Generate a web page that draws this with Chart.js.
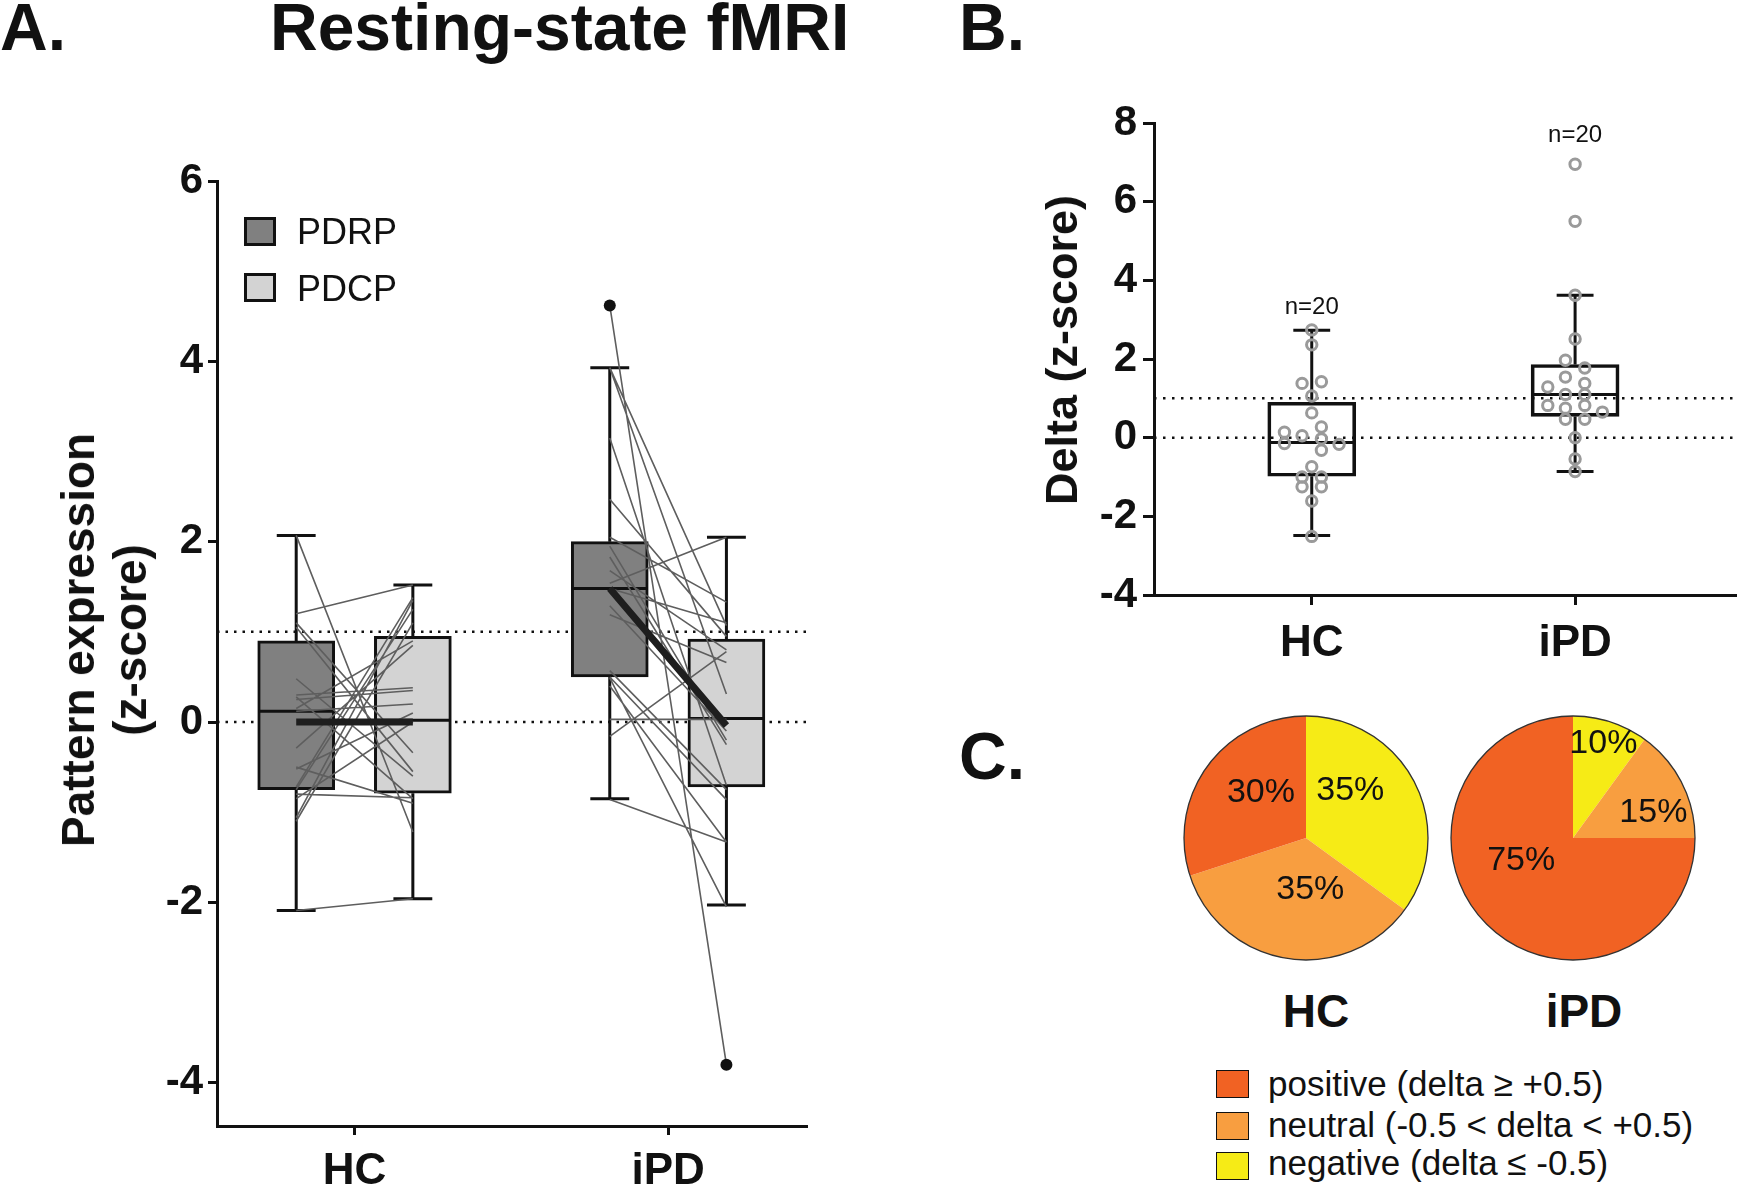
<!DOCTYPE html>
<html><head><meta charset="utf-8">
<script src="https://cdn.jsdelivr.net/npm/chart.js@4.4.1/dist/chart.umd.min.js"></script>
<style>
html,body{margin:0;padding:0;background:#fff;}
body{width:1745px;height:1185px;position:relative;overflow:hidden;font-family:'Liberation Sans',Arial,Helvetica,sans-serif;color:#111;}
canvas{position:absolute;}
.t{position:absolute;white-space:nowrap;line-height:1;}
.rot{position:absolute;white-space:nowrap;transform:translate(-50%,-50%) rotate(-90deg);text-align:center;font-weight:bold;}
.sw{position:absolute;box-sizing:border-box;}
</style></head><body>
<canvas id="cA" width="700" height="1050" style="left:117px;top:150px"></canvas>
<canvas id="cB" width="705" height="600" style="left:1040px;top:90px"></canvas>
<canvas id="cP1" width="250" height="250" style="left:1181px;top:713px"></canvas>
<canvas id="cP2" width="250" height="250" style="left:1448px;top:713px"></canvas>
<script>
// ================= DATA =================
const groups = ['HC', 'iPD'];
const patterns = ['PDRP', 'PDCP'];
const yTicksA = [-4, -2, 0, 2, 4, 6];
const yTicksB = [-4, -2, 0, 2, 4, 6, 8];
const refLines = [0, 1];

// Panel A box statistics: [min, q1, median, q3, max]
const boxHC_PDRP  = [-2.09, -0.75, 0.12, 0.90, 2.07];
const boxHC_PDCP  = [-1.96, -0.79, 0.02, 0.95, 1.52];
const boxIPD_PDRP = [-0.85, 0.50, 1.48, 2.00, 3.93];
const boxIPD_PDCP = [-2.03, -0.72, 0.04, 0.92, 2.05];
// group mean lines [PDRP, PDCP]
const meanHC  = [0.00, 0.00];
const meanIPD = [1.48, -0.04];
// outliers
const outlierIPD_PDRP = [4.62];
const outlierIPD_PDCP = [-3.80];
// individual subjects (paired)
const subjHC_PDRP  = [2.07, 1.20, 1.10, 1.05, 0.48, 0.30, 0.28, 0.25, 0.15, 0.12, -0.29, -0.50, -0.52, -0.72, -0.75, -0.80, -0.85, -1.06, -1.10, -2.09];
const subjHC_PDCP  = [-1.22, 1.52, -0.34, -0.55, -0.60, 0.38, -0.85, 0.35, 0.90, 0.20, 0.85, -0.90, 0.10, 1.38, 1.25, -0.84, 0.00, 1.35, 1.10, -1.96];
const subjIPD_PDRP = [4.62, 3.93, 3.93, 3.15, 2.47, 2.05, 1.95, 1.83, 1.68, 1.54, 1.48, 1.29, 1.19, 0.57, 0.49, 0.40, 0.50, 0.03, -0.16, -0.86];
const subjIPD_PDCP = [-3.80, 0.31, 1.07, -0.70, 0.95, 1.33, -0.20, -0.25, 0.80, 2.05, 1.10, -0.10, 0.66, -0.75, -2.05, -1.33, -0.86, 0.03, 0.78, -1.33];

// Panel B: delta values and their column slot (-2..2)
const deltaHC  = [2.74, 2.36, 1.38, 1.42, 1.06, 0.63, 0.14, 0.27, 0.05, -0.03, -0.15, -0.17, -0.32, -0.74, -1.00, -1.00, -1.25, -1.25, -1.61, -2.51];
const slotHC   = [0, 0, -1, 1, 0, 0, -2, 1, -1, 1, -2, 2, 1, 0, -1, 1, -1, 1, 0, 0];
const deltaIPD = [6.95, 5.50, 3.62, 2.51, 1.97, 1.77, 1.54, 1.29, 1.38, 1.10, 1.10, 0.82, 0.75, 0.82, 0.65, 0.47, 0.47, 0.00, -0.54, -0.86];
const slotIPD  = [0, 0, 0, 0, -1, 1, -1, -2, 1, -1, 1, -2, -1, 1, 2, -1, 1, 0, 0, 0];
const boxHC_Delta  = [-2.49, -0.98, -0.12, 0.90, 2.73];
const boxIPD_Delta = [-0.86, 0.54, 1.10, 1.86, 3.62];
const nLabels = ['n=20', 'n=20'];

// Panel C
const pieCategories = ['negative', 'neutral', 'positive'];
const pieHC  = [35, 35, 30];
const pieIPD = [10, 15, 75];
const legendOrder = ['positive', 'neutral', 'negative'];
const legendLabels = ['positive (delta \u2265 +0.5)', 'neutral (-0.5 < delta < +0.5)', 'negative (delta \u2264 -0.5)'];

// ================= STYLE =================
const INK = '#111';
const COL_PDRP = '#808080', COL_PDCP = '#d3d3d3';
const PIE_COL = { positive: '#f16223', neutral: '#f89e40', negative: '#f6eb16' };
const SA = { off: 0.186, boxPx: 77, half: 0.120, cap: 0.062, xMin: 0.5614, xMax: 2.443, yMin: -4.48, yMax: 6 };
const SB = { boxPx: 88, half: 0.160, cap: 0.07, slot: 0.0367, slot2: 0.1037, xMin: 0.401, xMax: 2.614, yMin: -4, yMax: 8 };

Chart.defaults.font.family = "'Liberation Sans', Arial, Helvetica, sans-serif";
Chart.defaults.color = INK;

function whiskers(cx, s, cap) {
  const [mn, q1, md, q3, mx] = s;
  return [
    {x: cx, y: q3}, {x: cx, y: mx}, {x: cx, y: null},
    {x: cx, y: q1}, {x: cx, y: mn}, {x: cx, y: null},
    {x: cx - cap, y: mx}, {x: cx + cap, y: mx}, {x: cx, y: null},
    {x: cx - cap, y: mn}, {x: cx + cap, y: mn}, {x: cx, y: null}
  ];
}
function hseg(cx, half, y) { return [{x: cx - half, y}, {x: cx + half, y}, {x: cx, y: null}]; }
function pairs(x1, a, x2, b) {
  const out = [];
  a.forEach((v, i) => { out.push({x: x1, y: v}, {x: x2, y: b[i]}, {x: x2, y: null}); });
  return out;
}
function axisCommon(tickLen, pad, fontSize, cb) {
  return {
    grid: { drawOnChartArea: false, drawTicks: true, tickLength: tickLen, tickWidth: 3, tickColor: INK, offset: false },
    border: { display: true, width: 3, color: INK },
    ticks: { font: { size: fontSize, weight: 'bold' }, color: INK, padding: pad, autoSkip: false, maxRotation: 0, callback: cb }
  };
}
const groupLabel = v => groups[Math.round(v) - 1] || '';
const numLabel = v => String(v);
const lineDs = (data, color, width, order, extra = {}) => Object.assign({
  type: 'scatter', data, showLine: true, borderColor: color, borderWidth: width, pointRadius: 0,
  pointHoverRadius: 0, spanGaps: false, order, fill: false
}, extra);

// ================= PANEL A =================
(function () {
  const xHCr = 1 - SA.off, xHCc = 1 + SA.off, xPDr = 2 - SA.off, xPDc = 2 + SA.off;
  const boxes = [[xHCr, boxHC_PDRP, COL_PDRP], [xHCc, boxHC_PDCP, COL_PDCP], [xPDr, boxIPD_PDRP, COL_PDRP], [xPDc, boxIPD_PDCP, COL_PDCP]];
  const ds = [];
  refLines.forEach(v => ds.push(lineDs([{x: SA.xMin, y: v}, {x: SA.xMax, y: v}], INK, 2.5, 20, {borderDash: [2.5, 6]})));
  ds.push(lineDs(boxes.flatMap(b => whiskers(b[0], b[1], SA.cap)), INK, 3, 15));
  ds.push({ type: 'bar', data: boxes.map(b => ({x: b[0], y: [b[1][1], b[1][3]]})), backgroundColor: boxes.map(b => b[2]),
            borderColor: INK, borderWidth: 3, borderSkipped: false, barThickness: SA.boxPx, order: 12 });
  ds.push(lineDs(boxes.flatMap(b => hseg(b[0], SA.half, b[1][2])), INK, 3, 11));
  ds.push(lineDs(pairs(xHCr, subjHC_PDRP, xHCc, subjHC_PDCP).concat(pairs(xPDr, subjIPD_PDRP, xPDc, subjIPD_PDCP)), '#5e5e5e', 1.6, 8));
  ds.push(lineDs([{x: xHCr, y: meanHC[0]}, {x: xHCc, y: meanHC[1]}, {x: xHCc, y: null}, {x: xPDr, y: meanIPD[0]}, {x: xPDc, y: meanIPD[1]}], '#1e1e1e', 7, 6));
  ds.push({ type: 'scatter', data: outlierIPD_PDRP.map(v => ({x: xPDr, y: v})).concat(outlierIPD_PDCP.map(v => ({x: xPDc, y: v}))),
            pointRadius: 6, pointBackgroundColor: INK, pointBorderColor: INK, pointBorderWidth: 0, order: 2 });
  const xa = axisCommon(9, 10, 44, groupLabel), ya = axisCommon(9, 5, 42, numLabel);
  new Chart(document.getElementById('cA'), {
    type: 'scatter',
    data: { datasets: ds },
    options: {
      responsive: false, animation: false, devicePixelRatio: 1,
      layout: { padding: { left: 0, top: 31, right: 10, bottom: 0 } },
      plugins: { legend: { display: false }, tooltip: { enabled: false } },
      scales: {
        x: Object.assign(xa, { type: 'linear', min: SA.xMin, max: SA.xMax, offset: false,
             afterFit: s => { s.height = 74; },
             afterBuildTicks: s => { s.ticks = groups.map((g, i) => ({value: i + 1})); } }),
        y: Object.assign(ya, { type: 'linear', min: SA.yMin, max: SA.yMax,
             afterFit: s => { s.width = 100; },
             afterBuildTicks: s => { s.ticks = yTicksA.map(v => ({value: v})); } })
      }
    }
  });
})();

// ================= PANEL B =================
const nLabelPlugin = {
  id: 'nlab',
  afterDatasetsDraw(chart, args, opts) {
    const {ctx, scales: {x, y}} = chart;
    ctx.save();
    ctx.font = "24px 'Liberation Sans', Arial, sans-serif";
    ctx.fillStyle = INK; ctx.textAlign = 'center'; ctx.textBaseline = 'alphabetic';
    (opts.items || []).forEach(it => ctx.fillText(it.text, x.getPixelForValue(it.x), y.getPixelForValue(it.y)));
    ctx.restore();
  }
};
(function () {
  const slotOff = s => Math.sign(s) * (Math.abs(s) === 2 ? SB.slot2 : Math.abs(s) === 1 ? SB.slot : 0);
  const boxes = [[1, boxHC_Delta], [2, boxIPD_Delta]];
  const ds = [];
  refLines.forEach(v => ds.push(lineDs([{x: SB.xMin, y: v}, {x: SB.xMax, y: v}], INK, 2.5, 20, {borderDash: [2.5, 6.5]})));
  ds.push(lineDs(boxes.flatMap(b => whiskers(b[0], b[1], SB.cap)), INK, 3, 15));
  ds.push({ type: 'bar', data: boxes.map(b => ({x: b[0], y: [b[1][1], b[1][3]]})), backgroundColor: 'rgba(0,0,0,0)',
            borderColor: INK, borderWidth: 3, borderSkipped: false, barThickness: SB.boxPx, order: 12 });
  ds.push(lineDs(boxes.flatMap(b => hseg(b[0], SB.half, b[1][2])), INK, 3, 11));
  const pts = deltaHC.map((v, i) => ({x: 1 + slotOff(slotHC[i]), y: v})).concat(deltaIPD.map((v, i) => ({x: 2 + slotOff(slotIPD[i]), y: v})));
  ds.push({ type: 'scatter', data: pts, pointRadius: 5.2, pointBorderWidth: 3, pointBorderColor: '#9a9a9a',
            pointBackgroundColor: 'rgba(0,0,0,0)', order: 2 });
  const xa = axisCommon(10, 12, 44, groupLabel), ya = axisCommon(11, 6, 42, numLabel);
  new Chart(document.getElementById('cB'), {
    type: 'scatter',
    data: { datasets: ds },
    options: {
      responsive: false, animation: false, devicePixelRatio: 1,
      layout: { padding: { left: 0, top: 33, right: 0, bottom: 0 } },
      plugins: { legend: { display: false }, tooltip: { enabled: false },
        nlab: { items: [{text: nLabels[0], x: 1, y: 3.14}, {text: nLabels[1], x: 2, y: 7.52}] } },
      scales: {
        x: Object.assign(xa, { type: 'linear', min: SB.xMin, max: SB.xMax, offset: false,
             afterFit: s => { s.height = 95; },
             afterBuildTicks: s => { s.ticks = groups.map((g, i) => ({value: i + 1})); } }),
        y: Object.assign(ya, { type: 'linear', min: SB.yMin, max: SB.yMax,
             afterFit: s => { s.width = 114; },
             afterBuildTicks: s => { s.ticks = yTicksB.map(v => ({value: v})); } })
      }
    },
    plugins: [nLabelPlugin]
  });
})();

// ================= PANEL C =================
const pieLabelPlugin = {
  id: 'pielab',
  afterDatasetsDraw(chart, args, opts) {
    const {ctx} = chart;
    const meta = chart.getDatasetMeta(0);
    const vals = chart.data.datasets[0].data;
    ctx.save();
    const a0 = meta.data[0];
    ctx.beginPath(); ctx.arc(a0.x, a0.y, a0.outerRadius, 0, Math.PI * 2);
    ctx.lineWidth = 1.3; ctx.strokeStyle = '#333'; ctx.stroke();
    ctx.font = "34px 'Liberation Sans', Arial, sans-serif";
    ctx.fillStyle = INK; ctx.textAlign = 'center'; ctx.textBaseline = 'middle';
    meta.data.forEach((arc, i) => {
      const o = opts.offsets[i];
      ctx.fillText(vals[i] + '%', arc.x + o[0] * arc.outerRadius, arc.y + o[1] * arc.outerRadius);
    });
    ctx.restore();
  }
};
function makePie(id, values, offsets) {
  new Chart(document.getElementById(id), {
    type: 'pie',
    data: { labels: pieCategories, datasets: [{ data: values, backgroundColor: pieCategories.map(c => PIE_COL[c]), borderWidth: 0 }] },
    options: { responsive: false, animation: false, devicePixelRatio: 1, layout: { padding: 3 },
      plugins: { legend: { display: false }, tooltip: { enabled: false }, pielab: { offsets } } },
    plugins: [pieLabelPlugin]
  });
}
makePie('cP1', pieHC, [[0.363, -0.388], [0.035, 0.426], [-0.369, -0.375]]);
makePie('cP2', pieIPD, [[0.249, -0.770], [0.659, -0.211], [-0.425, 0.186]]);

// ================= TEXT / LEGENDS (HTML) =================
function addText(str, x, baseline, size, opts = {}) {
  const d = document.createElement('div');
  d.className = 't'; d.textContent = str;
  d.style.fontSize = size + 'px';
  d.style.fontWeight = opts.bold ? 'bold' : 'normal';
  d.style.top = (baseline - 0.8465 * size) + 'px';
  d.style.left = x + 'px';
  if (opts.center) d.style.transform = 'translateX(-50%)';
  document.body.appendChild(d);
  return d;
}
function addRot(html, cx, cy, size, lh) {
  const d = document.createElement('div');
  d.className = 'rot'; d.innerHTML = html;
  d.style.fontSize = size + 'px'; d.style.lineHeight = lh + 'px';
  d.style.left = cx + 'px'; d.style.top = cy + 'px';
  document.body.appendChild(d);
}
function addSwatch(x, y, w, h, bg, bw) {
  const d = document.createElement('div');
  d.className = 'sw';
  Object.assign(d.style, { left: x + 'px', top: y + 'px', width: w + 'px', height: h + 'px', background: bg, border: bw + 'px solid ' + INK });
  document.body.appendChild(d);
}
addText('A.', 0, 50, 66, {bold: true});
addText('Resting-state fMRI', 270, 50, 66, {bold: true});
addText('B.', 959, 50, 66, {bold: true});
addText('C.', 959, 779, 66, {bold: true});
// Panel A legend
addSwatch(244, 217, 32, 29, COL_PDRP, 3);
addText(patterns[0], 297, 244, 36);
addSwatch(244, 273, 32, 29, COL_PDCP, 3);
addText(patterns[1], 297, 301, 36);
// axis titles
addRot('Pattern expression<br>(z-score)', 104, 640, 46, 52);
addRot('Delta (z-score)', 1062, 350, 45, 52);
// pie group labels
addText(groups[0], 1316, 1027, 46, {bold: true, center: true});
addText(groups[1], 1584, 1027, 46, {bold: true, center: true});
// Panel C legend
const legTops = [1070, 1112, 1152], legBase = [1096, 1137, 1175];
legendOrder.forEach((c, i) => {
  addSwatch(1216, legTops[i], 33, 28, PIE_COL[c], 1.5);
  addText(legendLabels[i], 1268, legBase[i], 35);
});
</script>
</body></html>
